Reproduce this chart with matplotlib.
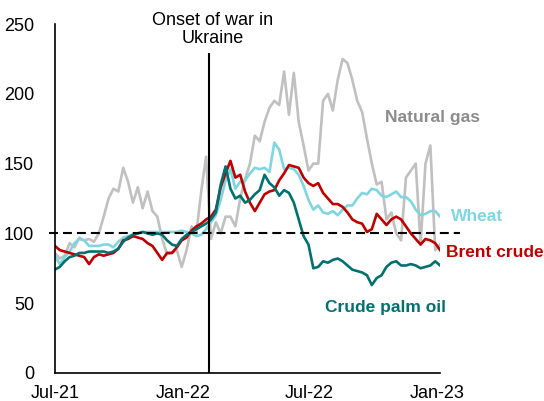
"""Commodity price indices around the onset of the war in Ukraine."""

import matplotlib
matplotlib.use("Agg")
import matplotlib.dates as mdates
import matplotlib.pyplot as plt
import pandas as pd


START_DATE = "2021-07-01"
WAR_DATE = "2022-02-07"

natural_gas = [
    86, 82, 84, 93, 90, 97, 95, 96, 94, 100, 112, 125, 132, 130, 147, 137,
    122, 133, 118, 130, 116, 112, 96, 85, 86, 88, 76, 88, 105, 100, 130, 155,
    96, 108, 100, 112, 112, 105, 125, 139, 150, 170, 166, 180, 190, 195, 192,
    216, 185, 215, 180, 163, 145, 150, 150, 195, 200, 188, 210, 225, 222, 210,
    195, 187, 168, 150, 135, 137, 110, 115, 100, 95, 140, 145, 150, 92, 150,
    163, 88, 92,
]
wheat = [
    84, 78, 83, 87, 93, 96, 95, 91, 91, 91, 92, 92, 90, 94, 97, 98, 99, 100,
    101, 101, 101, 101, 101, 101, 101, 101, 102, 101, 100, 98, 99, 103, 108,
    113, 124, 138, 146, 132, 137, 138, 143, 147, 146, 147, 144, 165, 160, 146,
    147, 146, 142, 134, 124, 117, 120, 115, 114, 116, 113, 117, 120, 120, 125,
    129, 128, 132, 131, 127, 126, 128, 130, 126, 126, 123, 117, 113, 114, 116,
    116, 112,
]
brent_crude = [
    91, 88, 87, 86, 85, 84, 83, 78, 83, 85, 84, 85, 86, 89, 95, 96, 98, 97,
    96, 93, 91, 86, 81, 86, 86, 90, 95, 97, 102, 105, 107, 110, 112, 117, 133,
    143, 152, 140, 142, 130, 122, 116, 122, 128, 130, 131, 138, 143, 149, 148,
    147, 140, 136, 134, 136, 129, 125, 121, 121, 119, 115, 110, 108, 107, 101,
    103, 114, 110, 106, 110, 112, 110, 105, 100, 96, 92, 96, 95, 93, 88,
]
crude_palm_oil = [
    74, 76, 80, 83, 84, 86, 86, 87, 87, 87, 87, 86, 87, 89, 94, 97, 99, 100,
    101, 100, 99, 100, 99, 95, 92, 91, 96, 99, 101, 103, 105, 107, 110, 115,
    135, 148, 132, 125, 127, 122, 124, 128, 131, 142, 136, 133, 127, 131, 129,
    122, 110, 98, 92, 75, 76, 80, 79, 81, 82, 80, 77, 74, 73, 72, 70, 63, 68,
    70, 76, 79, 80, 77, 77, 78, 77, 75, 76, 77, 80, 77,
]

series = [
    ("Natural gas", natural_gas, "#c0c0c0", "#8c8c8c"),
    ("Wheat", wheat, "#7fd6e0", "#7fd6e0"),
    ("Brent crude", brent_crude, "#c00000", "#c00000"),
    ("Crude palm oil", crude_palm_oil, "#007070", "#007070"),
]

# label anchors: (date, value)
label_positions = {
    "Natural gas": ("2022-10-18", 183),
    "Wheat": ("2023-01-20", 112),
    "Brent crude": ("2023-01-14", 86),
    "Crude palm oil": ("2022-07-24", 47),
}


def main():
    plt.rcParams["font.family"] = ["Liberation Sans", "DejaVu Sans"]
    dates = pd.date_range(START_DATE, periods=len(wheat), freq="7D")
    war = pd.Timestamp(WAR_DATE)

    figure = plt.figure(figsize=(5.44, 4.01), dpi=100)
    axis = figure.add_axes([0.101, 0.070, 0.708, 0.870])

    for name, values, line_color, _ in series:
        axis.plot(dates, values, color=line_color, linewidth=1.9,
                  solid_joinstyle="round")

    axis.plot([-0.016, 1.052], [100, 100], color="black", linewidth=1.5,
              dashes=(4.3, 2.4), transform=axis.get_yaxis_transform(),
              clip_on=False, zorder=5)
    axis.vlines(war, 0, 229, color="black", linewidth=1.5, zorder=6)
    axis.text(war + pd.Timedelta(days=6), 246, "Onset of war in\nUkraine",
              ha="center", va="center", fontsize=13, linespacing=1.05)

    for name, _, _, text_color in series:
        date, value = label_positions[name]
        axis.text(pd.Timestamp(date), value, name, color=text_color,
                  fontsize=12.5, fontweight="bold", ha="left", va="center")

    axis.set_xlim(pd.Timestamp("2021-07-01"), pd.Timestamp("2023-01-05"))
    axis.set_ylim(0, 250)
    axis.set_yticks([0, 50, 100, 150, 200, 250])
    ticks = pd.to_datetime(["2021-07-01", "2022-01-01", "2022-07-01",
                            "2023-01-01"])
    axis.set_xticks(ticks)
    axis.xaxis.set_major_formatter(mdates.DateFormatter("%b-%y"))
    axis.tick_params(axis="both", length=0, labelsize=13)
    axis.tick_params(axis="y", pad=15)
    axis.tick_params(axis="x", pad=9)
    for side in ("top", "right"):
        axis.spines[side].set_visible(False)
    for side in ("left", "bottom"):
        axis.spines[side].set_linewidth(1.2)

    figure.savefig("out.png", dpi=100, facecolor="white")
    plt.close(figure)


if __name__ == "__main__":
    main()
